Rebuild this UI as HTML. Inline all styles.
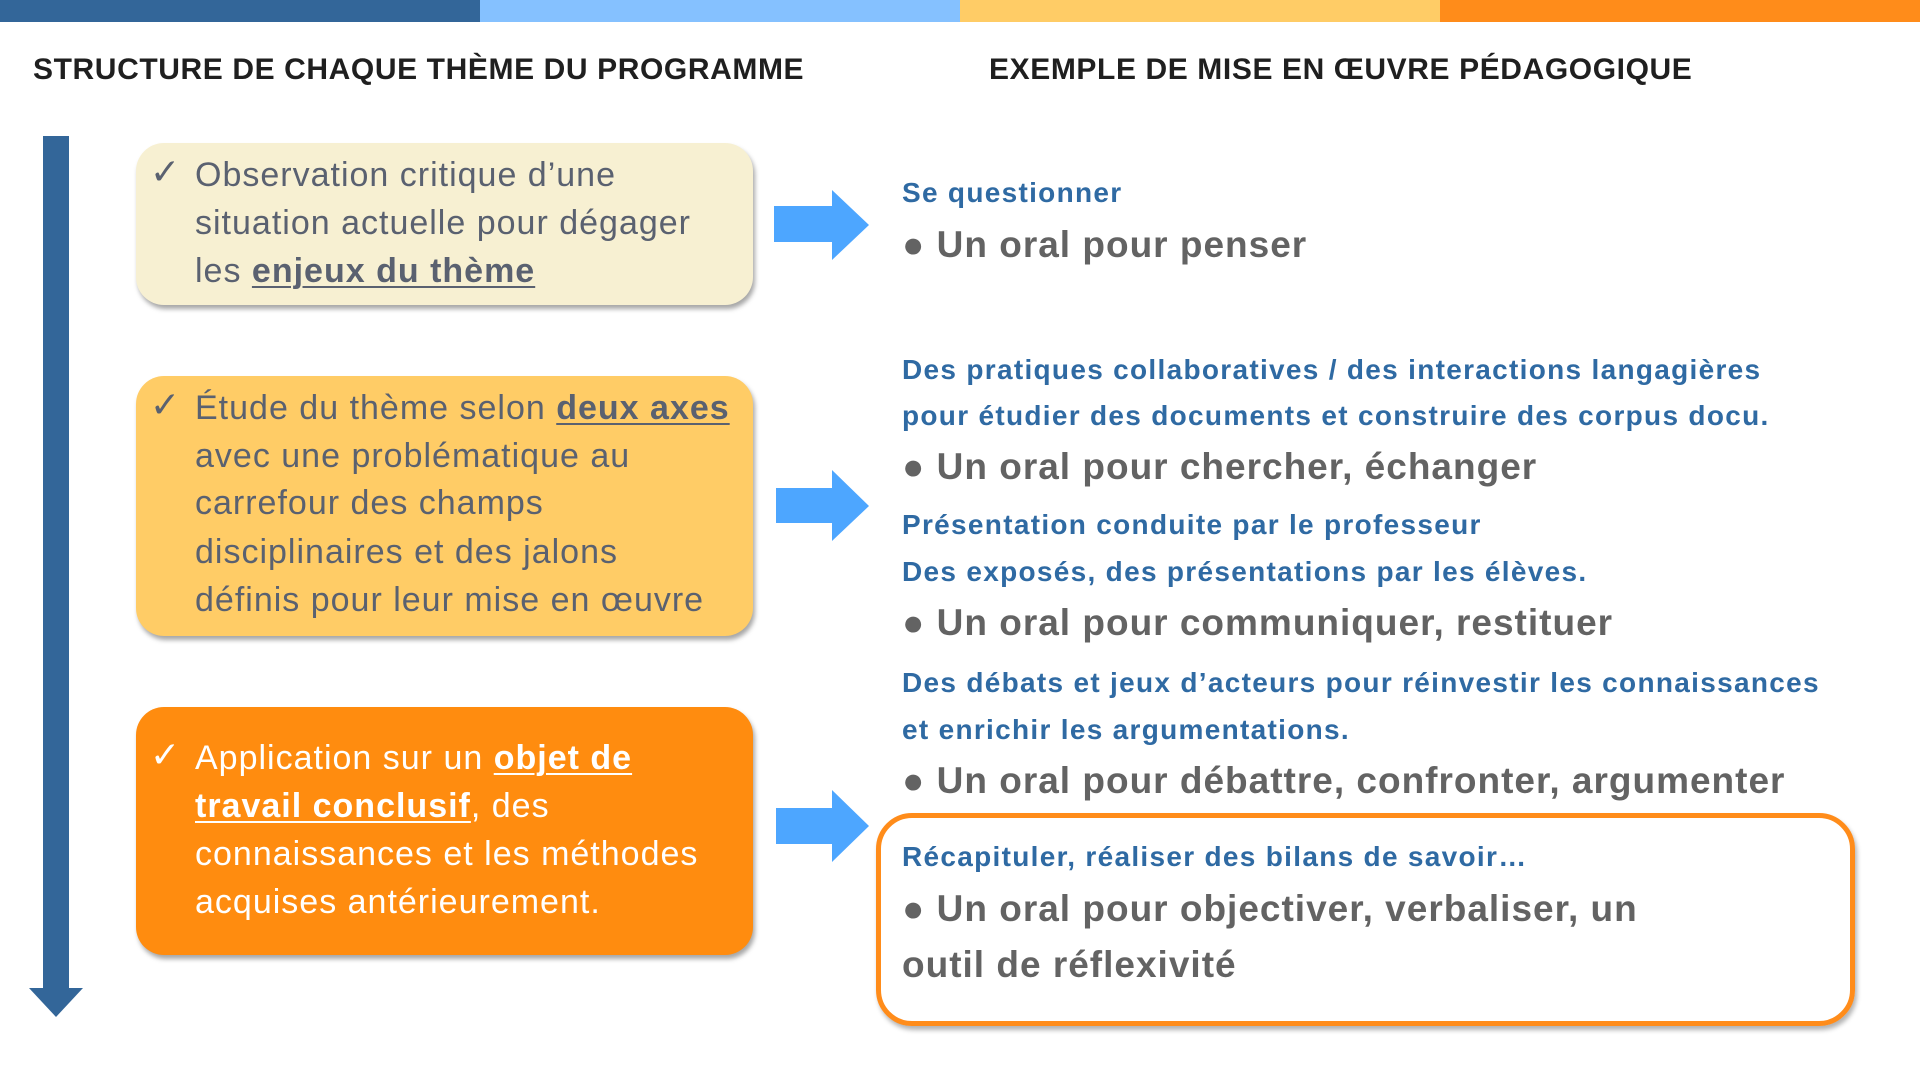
<!DOCTYPE html>
<html><head><meta charset="utf-8"><style>
body{margin:0;width:1920px;height:1080px;background:#fff;position:relative;overflow:hidden;font-family:"Liberation Sans",sans-serif}
.a{position:absolute;white-space:nowrap;line-height:40px}
.t{font-weight:bold;font-size:30px;color:#1f1f1f;letter-spacing:0.6px}
.bx{position:absolute;border-radius:28px;box-shadow:2px 4px 5px rgba(0,0,0,.35)}
.lt{font-size:34px;color:#5a6170;left:195px;letter-spacing:1px}
.wt{font-size:34px;color:#fff;left:195px;letter-spacing:1px}
.ck{font-size:36px;left:150px}
.h{font-size:28px;font-weight:bold;color:#2f6aa3;left:902px;letter-spacing:1.3px}
.b{font-size:37px;font-weight:bold;color:#636363;left:902px;letter-spacing:1px}
u{text-decoration-thickness:2px;text-underline-offset:4px}
</style></head><body>
<div style="position:absolute;top:0;left:0;width:480px;height:22px;background:#336699"></div>
<div style="position:absolute;top:0;left:480px;width:480px;height:22px;background:#85c1ff"></div>
<div style="position:absolute;top:0;left:960px;width:480px;height:22px;background:#ffcc66"></div>
<div style="position:absolute;top:0;left:1440px;width:480px;height:22px;background:#ff8c1a"></div>

<div class="a t" style="left:33px;top:50px">STRUCTURE DE CHAQUE THÈME DU PROGRAMME</div>
<div class="a t" style="left:989px;top:50px">EXEMPLE DE MISE EN ŒUVRE PÉDAGOGIQUE</div>

<svg style="position:absolute;left:0;top:0" width="1920" height="1080">
<rect x="43" y="136" width="26" height="856" fill="#336699"/>
<polygon points="29,988 83,988 56,1017" fill="#336699"/>
<polygon points="774,206 832,206 832,190 869,225 832,260 832,242 774,242" fill="#4da6ff"/>
<polygon points="776,488 832,488 832,470 869,506 832,541 832,523 776,523" fill="#4da6ff"/>
<polygon points="776,808 832,808 832,790 869,826 832,862 832,844 776,844" fill="#4da6ff"/>
</svg>

<div class="bx" style="left:136px;top:143px;width:617px;height:162px;background:#f7f0d2"></div>
<div class="bx" style="left:136px;top:376px;width:617px;height:260px;background:#ffcc66"></div>
<div class="bx" style="left:136px;top:707px;width:617px;height:248px;background:#ff8c0f"></div>

<div class="a ck" style="top:152px;color:#5a6170">✓</div>
<div class="a lt" style="top:155px">Observation critique d’une</div>
<div class="a lt" style="top:203px">situation actuelle pour dégager</div>
<div class="a lt" style="top:251px">les <b><u>enjeux du thème</u></b></div>

<div class="a ck" style="top:385px;color:#5a6170">✓</div>
<div class="a lt" style="top:388px">Étude du thème selon <b><u>deux axes</u></b></div>
<div class="a lt" style="top:436px">avec une problématique au</div>
<div class="a lt" style="top:483px">carrefour des champs</div>
<div class="a lt" style="top:532px">disciplinaires et des jalons</div>
<div class="a lt" style="top:580px">définis pour leur mise en œuvre</div>

<div class="a ck" style="top:735px;color:#fff">✓</div>
<div class="a wt" style="top:738px">Application sur un <b><u>objet de</u></b></div>
<div class="a wt" style="top:786px"><b><u>travail conclusif</u></b>, des</div>
<div class="a wt" style="top:834px">connaissances et les méthodes</div>
<div class="a wt" style="top:882px">acquises antérieurement.</div>

<div style="position:absolute;left:876px;top:813px;width:969px;height:203px;border:5px solid #ff8c1a;border-radius:36px;box-shadow:2px 4px 5px rgba(0,0,0,.3)"></div>

<div class="a h" style="top:173px">Se questionner</div>
<div class="a b" style="top:225px">● Un oral pour penser</div>
<div class="a h" style="top:350px">Des pratiques collaboratives / des interactions langagières</div>
<div class="a h" style="top:396px">pour étudier des documents et construire des corpus docu.</div>
<div class="a b" style="top:447px">● Un oral pour chercher, échanger</div>
<div class="a h" style="top:505px">Présentation conduite par le professeur</div>
<div class="a h" style="top:552px">Des exposés, des présentations par les élèves.</div>
<div class="a b" style="top:603px">● Un oral pour communiquer, restituer</div>
<div class="a h" style="top:663px">Des débats et jeux d’acteurs pour réinvestir les connaissances</div>
<div class="a h" style="top:710px">et enrichir les argumentations.</div>
<div class="a b" style="top:761px">● Un oral pour débattre, confronter, argumenter</div>
<div class="a h" style="top:837px">Récapituler, réaliser des bilans de savoir…</div>
<div class="a b" style="top:889px">● Un oral pour objectiver, verbaliser, un</div>
<div class="a b" style="top:945px">outil de réflexivité</div>
</body></html>
